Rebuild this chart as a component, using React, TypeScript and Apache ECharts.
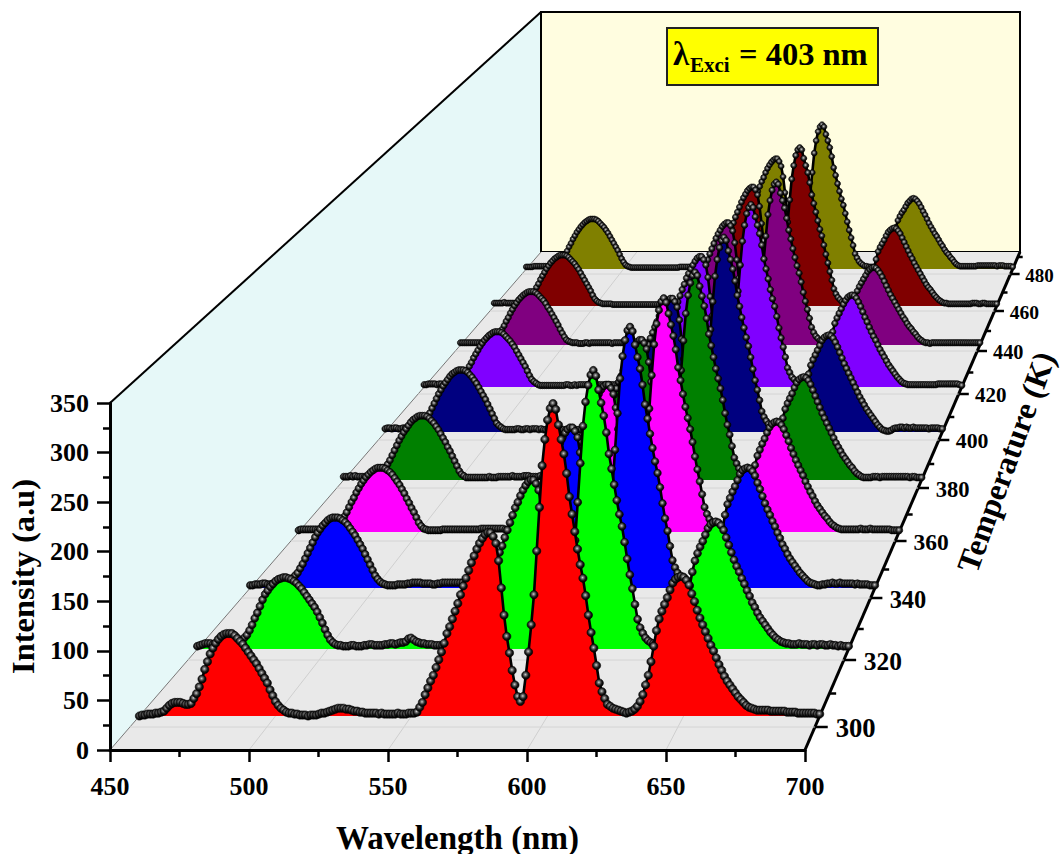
import React, { useEffect, useRef } from "react";
import * as echarts from "echarts";

const wavelengths = Array.from({ length: 251 }, (_, i) => 450 + i);
const temperatures = [300, 320, 340, 360, 380, 400, 420, 440, 460, 480];
const colors = ["#ff0000", "#00ff00", "#0000ff", "#ff00ff", "#008000", "#000080", "#8000ff", "#800080", "#800000", "#808000"];

const i300 = [0,1,1,2,2,2,3,3,4,5,8,11,13,14,14,14,13,12,12,13,18,23,30,38,48,56,64,70,75,79,82,84,85,85,85,83,80,77,74,70,66,62,58,54,49,44,39,34,27,21,
15,11,8,6,4,3,3,2,2,1,1,1,0,1,1,1,2,3,3,4,5,6,7,8,8,8,7,7,6,5,5,4,4,3,3,3,3,3,2,3,2,2,2,2,2,3,2,2,2,3,
3,3,4,9,14,22,29,36,42,50,58,66,75,85,92,100,108,116,125,134,142,150,158,165,172,178,183,187,189,189,185,178,160,132,104,82,65,47,32,20,15,20,42,66,94,125,170,215,258,285,
305,317,322,316,300,285,270,250,226,208,190,172,156,142,124,104,86,70,52,34,25,18,12,10,8,7,6,5,4,3,4,5,7,10,15,22,32,42,56,72,88,100,108,115,122,130,137,141,143,144,
143,140,135,126,118,109,101,94,87,80,73,67,60,53,47,41,36,32,28,24,20,17,14,11,9,8,7,6,6,6,6,6,5,5,5,5,5,5,4,4,4,4,3,3,3,3,3,3,3,2,2];
const i320 = [3,4,5,6,6,6,5,6,6,5,5,6,6,6,7,7,8,9,12,15,20,26,33,39,46,53,59,63,67,70,73,75,76,77,77,76,75,73,71,68,65,61,57,53,49,45,40,34,28,21,
15,10,7,5,4,4,3,3,3,4,4,3,3,3,4,4,5,5,4,4,4,4,5,5,6,6,5,6,7,7,8,11,12,10,8,7,6,6,5,5,5,4,4,4,4,4,4,4,4,4,
4,4,5,8,13,20,27,34,40,48,56,63,72,81,89,96,104,111,120,128,136,144,152,158,165,171,176,180,182,182,178,171,154,127,100,79,62,45,31,20,15,19,40,62,88,117,158,200,240,266,
284,295,300,294,279,265,251,233,210,194,177,160,145,132,115,97,80,65,48,32,23,17,12,9,7,6,6,5,4,4,5,6,8,10,14,21,30,40,53,68,83,95,103,110,116,123,130,134,136,137,
136,133,128,120,112,104,96,89,83,76,70,63,57,50,45,39,34,30,26,22,18,15,12,10,8,7,6,6,5,5,5,6,5,5,5,4,5,5,4,5,5,4,4,5,4,4,3,4,3,3,3];
const i340 = [3,3,4,4,4,5,5,4,4,5,5,5,5,6,6,7,9,11,14,17,22,27,33,39,45,51,57,62,66,70,73,76,78,79,79,79,78,76,74,71,67,63,59,54,49,44,38,32,26,20,
14,10,7,5,4,3,3,3,3,4,4,4,4,5,5,6,6,6,6,5,5,5,5,4,4,5,5,6,6,6,6,6,6,6,6,6,5,5,4,4,4,4,4,3,3,3,3,3,3,3,
4,4,5,8,13,20,27,34,40,47,55,62,70,79,87,94,102,110,118,127,134,142,150,157,163,169,174,178,180,180,176,169,152,126,99,78,61,44,30,19,14,19,39,60,86,114,155,196,235,260,
278,289,293,288,273,259,246,228,206,190,173,157,142,129,113,95,78,64,47,31,23,17,12,9,7,6,5,5,4,4,4,5,7,10,14,20,29,39,52,66,82,94,101,108,114,121,128,132,134,135,
134,131,126,118,111,103,95,88,82,75,69,62,56,49,44,38,33,29,25,21,17,14,11,8,6,5,4,3,3,4,4,5,5,6,5,5,6,5,5,5,5,5,4,5,4,4,4,4,3,3,3];
const i360 = [2,3,3,3,3,3,3,3,3,3,3,3,3,3,4,5,7,10,14,18,23,29,35,40,46,51,56,60,64,67,70,72,74,75,75,75,74,72,70,67,63,59,55,50,45,39,34,28,23,17,
11,7,4,3,2,2,2,2,2,2,3,3,3,3,3,3,3,3,3,3,3,3,3,3,3,3,4,4,4,4,4,4,4,4,4,4,3,3,3,3,3,3,3,3,3,3,3,4,3,3,
3,3,4,7,12,18,25,32,38,45,52,59,67,75,82,90,97,105,112,121,128,135,143,150,156,161,166,170,172,172,168,161,145,120,95,75,58,42,29,18,14,18,36,56,80,106,144,183,219,243,
259,269,273,268,255,242,229,213,192,177,161,146,133,120,105,88,73,59,44,29,21,15,11,8,6,5,4,4,3,3,4,5,7,9,13,19,27,37,49,63,78,89,96,103,109,116,122,126,128,129,
128,125,120,113,106,98,91,84,78,72,66,59,53,47,42,36,31,27,23,19,16,12,9,7,5,4,3,3,3,3,3,3,3,3,4,3,3,3,4,3,3,3,3,3,3,3,3,2,2,2,2];
const i380 = [4,4,4,5,4,5,4,4,4,4,4,4,4,5,5,6,8,11,15,19,24,30,36,42,48,53,58,62,66,70,73,75,77,78,78,78,77,75,72,69,65,61,56,51,46,40,35,29,23,17,
11,7,5,3,3,3,3,3,3,3,3,3,3,4,3,3,3,4,4,4,4,4,4,5,4,4,4,4,5,5,5,4,4,4,4,5,4,4,4,4,4,4,4,4,3,4,4,4,4,4,
4,4,5,7,12,18,25,31,37,44,51,58,66,74,81,88,95,103,111,119,126,133,141,148,154,159,164,168,170,170,166,159,143,119,94,74,58,42,28,18,14,17,34,52,74,98,133,169,202,224,
239,248,252,248,235,223,211,196,177,163,149,135,123,111,97,81,67,55,41,27,20,14,10,8,6,5,4,4,3,3,4,5,6,9,13,18,26,36,47,61,75,86,93,99,105,112,118,122,124,125,
124,121,116,109,102,95,88,81,75,69,63,57,51,45,40,35,30,26,22,18,15,11,8,6,4,3,3,3,3,4,4,4,3,4,4,4,4,4,4,4,4,4,4,4,4,3,4,4,3,3,3];
const i400 = [4,5,5,4,5,5,4,4,5,5,5,5,4,5,5,6,8,11,15,19,24,30,36,42,48,53,58,62,66,70,73,75,77,78,78,78,77,75,72,69,65,61,56,51,46,41,35,29,23,17,
11,8,6,4,3,3,3,3,3,4,4,3,3,4,4,3,4,4,4,3,4,3,3,4,4,3,3,3,3,3,3,3,3,4,3,3,3,3,3,3,3,3,3,3,3,3,3,3,3,3,
3,3,4,7,11,17,24,31,37,44,51,58,65,73,80,87,94,102,110,118,125,132,139,146,152,157,162,166,168,168,164,157,141,117,92,73,57,41,28,18,14,17,33,50,72,95,129,164,196,217,
232,241,245,241,228,217,205,190,172,158,144,131,119,108,94,79,65,53,40,26,19,14,10,7,5,5,4,3,3,3,4,5,6,9,12,18,26,35,46,60,73,84,91,97,103,109,115,119,121,122,
121,118,113,107,100,93,86,80,74,68,62,56,50,44,39,34,29,25,21,17,13,9,6,3,2,1,1,2,4,5,5,6,6,5,6,5,5,6,5,5,5,5,5,5,4,5,5,5,5,4,4];
const i420 = [3,3,4,4,4,4,3,4,4,3,3,3,4,3,4,5,7,9,13,17,21,27,32,38,43,48,53,57,61,64,67,69,71,72,72,72,71,69,66,63,60,56,52,47,42,37,32,27,21,15,
10,7,5,3,2,2,2,2,2,2,2,2,2,2,2,2,3,3,2,2,3,2,3,3,3,3,3,3,3,3,3,3,3,3,3,3,3,3,3,3,3,3,3,4,3,3,3,3,3,3,
3,3,4,7,12,18,25,32,38,45,52,59,66,74,81,89,96,104,111,119,127,134,142,148,154,159,164,168,170,170,166,159,143,118,93,74,57,42,28,18,14,17,32,49,70,92,125,159,190,211,
226,234,238,234,222,211,200,185,167,154,141,127,115,105,92,77,64,52,39,25,19,13,10,7,5,5,4,3,3,3,3,4,6,8,12,17,25,34,45,58,72,83,90,96,102,108,113,117,119,120,
119,116,111,105,98,91,85,78,72,66,61,55,49,44,39,34,29,25,21,17,13,10,7,5,4,3,3,3,3,3,3,3,3,3,3,3,3,3,3,4,4,4,4,4,4,4,4,4,4,3,2];
const i440 = [3,3,3,3,3,3,3,3,3,3,3,3,3,3,4,5,7,9,13,17,21,26,32,37,43,48,53,57,61,64,67,69,71,72,72,72,71,69,66,63,60,56,51,47,42,37,32,27,21,16,
11,7,5,4,3,3,3,2,2,2,3,3,2,3,3,3,3,3,3,3,3,3,3,2,3,3,3,3,3,3,3,3,3,3,3,3,3,3,3,3,3,3,3,3,3,3,3,3,3,3,
3,3,4,7,11,18,24,31,37,44,50,57,64,72,79,86,93,100,108,115,123,130,137,144,150,155,160,163,165,165,161,154,138,115,90,71,55,40,27,17,13,16,30,45,65,85,116,147,176,195,
209,217,220,217,205,195,185,171,155,143,130,118,107,97,85,71,59,48,36,24,17,12,9,6,5,4,3,3,3,3,3,4,5,7,10,15,22,30,40,51,63,73,79,84,89,94,99,102,104,105,
104,101,97,92,86,80,74,68,63,58,53,48,43,38,34,29,25,22,18,15,11,8,6,4,3,3,2,3,3,3,3,3,3,3,3,3,3,3,3,3,3,3,3,3,3,3,3,3,3,3,3];
const i460 = [4,4,4,4,4,5,4,4,4,4,4,4,4,4,4,5,7,9,12,16,20,26,31,37,42,47,52,56,60,63,66,68,70,71,71,71,70,68,65,62,59,55,51,46,41,36,31,26,21,15,
10,7,5,4,3,3,3,3,3,2,2,2,2,2,2,2,2,2,2,2,2,2,2,2,2,2,2,2,2,2,2,2,2,2,2,2,2,2,2,2,2,2,2,2,2,2,2,2,2,2,
2,2,3,6,11,17,24,31,37,44,51,58,65,73,80,87,94,101,109,116,124,131,138,145,151,156,161,164,166,166,162,155,139,115,91,72,56,41,27,17,13,16,30,46,65,86,117,148,177,196,
210,218,221,218,206,196,186,172,155,143,131,119,107,98,85,72,60,48,36,24,17,12,9,6,5,4,3,3,3,3,3,4,5,7,10,15,23,31,41,53,65,76,82,87,92,98,103,106,108,109,
108,105,101,95,89,83,77,71,66,60,55,50,45,40,35,30,26,23,19,15,12,9,7,5,4,4,3,3,3,3,3,3,3,3,3,3,3,3,4,4,4,3,3,4,4,3,3,3,3,3,3];
const i480 = [3,3,3,3,4,4,4,4,4,4,4,4,4,4,4,5,7,9,13,17,21,26,32,37,43,48,53,57,61,64,67,69,71,72,72,72,71,69,66,63,60,56,52,47,42,37,32,27,21,15,
10,6,4,3,2,2,2,2,2,2,2,2,2,2,2,2,2,2,2,2,2,2,2,2,2,2,2,2,2,3,3,3,3,3,3,3,3,3,3,3,3,3,3,3,3,3,3,3,3,3,
3,3,4,6,11,17,23,30,36,43,49,56,63,70,77,84,91,97,105,112,119,126,132,139,145,150,154,157,159,159,155,148,133,110,87,69,53,39,26,16,12,15,28,43,61,81,110,139,167,185,
198,205,208,205,194,185,175,162,146,135,123,112,101,92,80,68,56,45,34,22,16,11,8,6,4,4,3,3,3,3,3,4,5,7,10,14,21,29,38,49,60,70,76,81,85,90,95,98,101,102,
101,98,94,89,83,78,72,66,61,56,51,47,42,37,33,28,24,21,17,14,10,7,5,4,4,4,4,4,4,4,4,4,5,5,5,5,5,5,5,5,5,5,4,5,5,5,4,4,4,4,3];
const intensities = [i300, i320, i340, i360, i380, i400, i420, i440, i460, i480];

const FONT = "Liberation Serif";
const front = { y: 750, l: 110, r: 805, top: 403 };
const back = { y: 252, l: 541, r: 1020, top: 12 };
const baselineY = [716, 649, 588, 532, 480, 432, 387, 345, 306, 269];
const tickY = [727, 660, 598, 541, 488, 440, 394, 351, 311, 274];

const edgeL = (y: number) => front.l + ((front.y - y) / (front.y - back.y)) * (back.l - front.l);
const edgeR = (y: number) => front.r + ((front.y - y) / (front.y - back.y)) * (back.r - front.r);
const scaleAt = (y: number) => (edgeR(y) - edgeL(y)) / (front.r - front.l);

function buildOption() {
  const grids: any[] = [{ left: front.l, width: front.r - front.l, top: front.top, height: front.y - front.top, show: false, outerBoundsMode: "none" }];
  const xAxes: any[] = [{
    type: "value", gridIndex: 0, min: 450, max: 700, interval: 50, z: 5,
    name: "Wavelength (nm)", nameLocation: "middle", nameGap: 71,
    nameTextStyle: { fontFamily: FONT, fontWeight: "bold", fontSize: 33, color: "#000" },
    axisLine: { onZero: false, lineStyle: { color: "#000", width: 3 } },
    axisTick: { length: 12, lineStyle: { color: "#000", width: 2.5 } },
    minorTick: { show: true, splitNumber: 2, length: 7, lineStyle: { color: "#000", width: 2.5 } },
    splitLine: { show: false },
    axisLabel: { margin: 23, fontFamily: FONT, fontWeight: "bold", fontSize: 26, color: "#000", hideOverlap: false, showMinLabel: true, showMaxLabel: true },
  }];
  const yAxes: any[] = [{
    type: "value", gridIndex: 0, min: 0, max: 350, interval: 50, z: 5,
    name: "Intensity (a.u)", nameLocation: "middle", nameGap: 67,
    nameTextStyle: { fontFamily: FONT, fontWeight: "bold", fontSize: 32.5, color: "#000" },
    axisLine: { onZero: false, lineStyle: { color: "#000", width: 3 } },
    axisTick: { length: 13, lineStyle: { color: "#000", width: 2.5 } },
    minorTick: { show: true, splitNumber: 2, length: 7, lineStyle: { color: "#000", width: 2.5 } },
    splitLine: { show: false },
    axisLabel: { margin: 21, padding: [5, 0, 0, 0], fontFamily: FONT, fontWeight: "bold", fontSize: 26, color: "#000", showMinLabel: true, showMaxLabel: true },
  }];
  const series: any[] = [];
  const beadColor = {
    type: "radial", x: 0.45, y: 0.42, r: 0.55,
    colorStops: [{ offset: 0, color: "#d0d0d0" }, { offset: 0.3, color: "#707070" }, { offset: 0.65, color: "#1c1c1c" }, { offset: 1, color: "#000000" }],
  };
  temperatures.forEach((_, i) => {
    const y = baselineY[i];
    const s = scaleAt(y);
    const h = (front.y - front.top) * s;
    grids.push({ left: edgeL(y), width: edgeR(y) - edgeL(y), top: y - h, height: h, show: false, outerBoundsMode: "none" });
    xAxes.push({ type: "value", gridIndex: i + 1, min: 450, max: 700, show: false });
    yAxes.push({ type: "value", gridIndex: i + 1, min: 0, max: 350, show: false });
    series.push({
      type: "line",
      name: String(temperatures[i]) + " K",
      xAxisIndex: i + 1,
      yAxisIndex: i + 1,
      z: 30 - i,
      clip: false,
      silent: true,
      showSymbol: true,
      showAllSymbol: true,
      symbol: "circle",
      symbolSize: 8.4 * s,
      lineStyle: { color: "#000", width: 2.6 },
      itemStyle: { color: beadColor, borderColor: "#000", borderWidth: 0.6, opacity: 1 },
      areaStyle: { color: colors[i], opacity: 1, origin: "start" },
      data: wavelengths.map((w, k) => [w, intensities[i][k]]),
    });
  });

  const gfx: any[] = [];
  gfx.push({ type: "polygon", shape: { points: [[front.l, front.top], [back.l, back.top], [back.l, back.y], [front.l, front.y]] }, style: { fill: "#e6f8f8" } });
  gfx.push({ type: "rect", shape: { x: back.l, y: back.top, width: back.r - back.l, height: back.y - back.top }, style: { fill: "#fffde0", stroke: "#000", lineWidth: 2 } });
  gfx.push({ type: "polygon", shape: { points: [[front.l, front.y], [front.r, front.y], [back.r, back.y], [back.l, back.y]] }, style: { fill: "#e9e9e9" } });
  gfx.push({ type: "line", shape: { x1: front.l, y1: front.top, x2: back.l, y2: back.top }, style: { stroke: "#000", lineWidth: 2 } });
  gfx.push({ type: "line", shape: { x1: front.l, y1: front.y, x2: back.l, y2: back.y }, style: { stroke: "#777", lineWidth: 1 } });
  [500, 550, 600, 650].forEach((w) => {
    const f = (w - 450) / 250;
    gfx.push({
      type: "line",
      shape: { x1: front.l + f * (front.r - front.l), y1: front.y, x2: back.l + f * (back.r - back.l), y2: back.y },
      style: { stroke: "#cfcfcf", lineWidth: 1 },
    });
  });
  gfx.push({ type: "line", shape: { x1: front.r, y1: front.y, x2: back.r, y2: back.y }, style: { stroke: "#000", lineWidth: 3 } });
  temperatures.forEach((t, i) => {
    const y = tickY[i];
    const s = scaleAt(y);
    const ax = edgeR(y);
    gfx.push({ type: "line", shape: { x1: edgeL(y), y1: y, x2: ax, y2: y }, style: { stroke: "#d4d4d4", lineWidth: 1 } });
    gfx.push({ type: "line", shape: { x1: ax, y1: y, x2: ax + 13 * s, y2: y }, style: { stroke: "#000", lineWidth: 2.5 } });
    gfx.push({
      type: "text", x: ax + 21 * s, y: y + 1,
      style: { text: String(t), fontFamily: FONT, fontWeight: "bold", fontSize: 27 * s, fill: "#000", align: "left", verticalAlign: "middle" },
    });
    const my = i < tickY.length - 1 ? (y + tickY[i + 1]) / 2 : 257;
    const mx = edgeR(my);
    gfx.push({ type: "line", shape: { x1: mx, y1: my, x2: mx + 7 * scaleAt(my), y2: my }, style: { stroke: "#000", lineWidth: 2.5 } });
  });
  gfx.push({
    type: "text", x: 1006, y: 462, rotation: (70 * Math.PI) / 180,
    style: { text: "Temperature (K)", fontFamily: FONT, fontWeight: "bold", fontSize: 32, fill: "#000", align: "center", verticalAlign: "middle" },
  });
  gfx.push({ type: "rect", shape: { x: 667, y: 28, width: 211, height: 57 }, style: { fill: "#ffff00", stroke: "#222", lineWidth: 2 } });
  gfx.push({ type: "text", x: 673, y: 54, style: { text: "λ", fontFamily: FONT, fontWeight: "bold", fontSize: 33, fill: "#000", align: "left", verticalAlign: "middle" } });
  gfx.push({ type: "text", x: 690, y: 65, style: { text: "Exci", fontFamily: FONT, fontWeight: "bold", fontSize: 21, fill: "#000", align: "left", verticalAlign: "middle" } });
  gfx.push({ type: "text", x: 739, y: 54, style: { text: "= 403 nm", fontFamily: FONT, fontWeight: "bold", fontSize: 32.5, fill: "#000", align: "left", verticalAlign: "middle" } });

  return { animation: false, backgroundColor: "#ffffff", grid: grids, xAxis: xAxes, yAxis: yAxes, series, graphic: { elements: gfx } };
}

export default function App() {
  const ref = useRef<HTMLDivElement>(null);
  useEffect(() => {
    const chart = echarts.init(ref.current!, undefined, { renderer: "svg" });
    chart.setOption(buildOption() as any);
    return () => chart.dispose();
  }, []);
  return <div ref={ref} style={{ position: "absolute", left: 0, top: 0, width: 1064, height: 854 }} />;
}
